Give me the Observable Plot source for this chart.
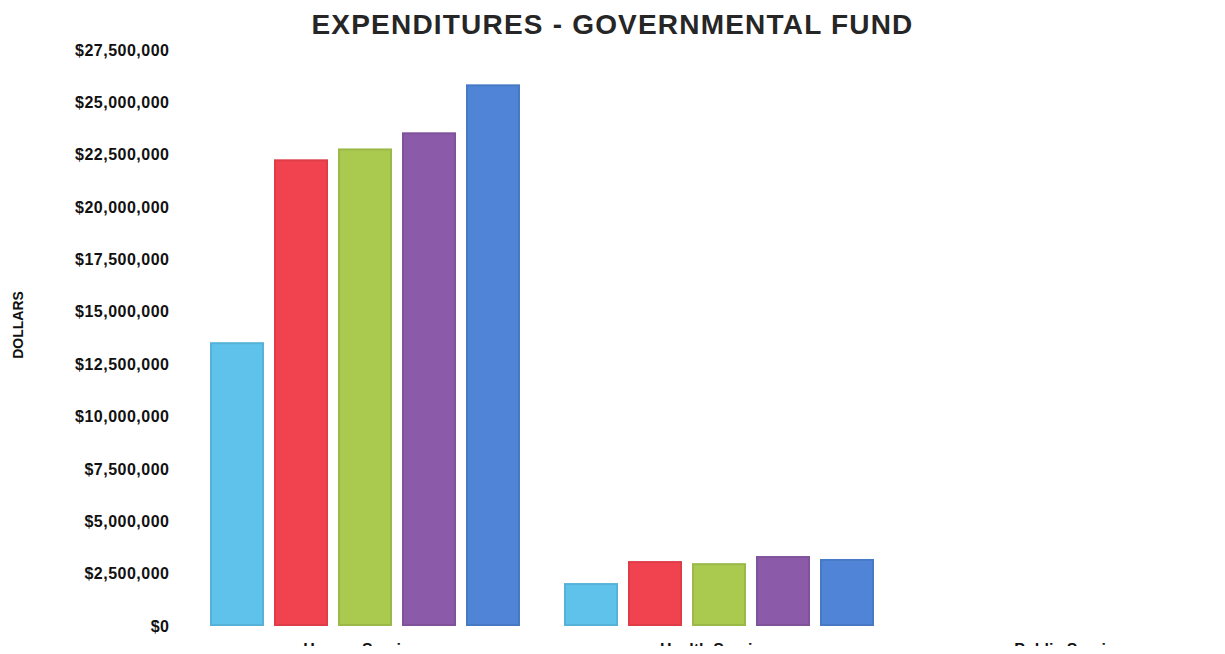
<!DOCTYPE html>
<html>
<head>
<meta charset="utf-8">
<script src="https://cdn.jsdelivr.net/npm/d3@7"></script>
<script src="https://cdn.jsdelivr.net/npm/@observablehq/plot@0.6"></script>
<style>
  html, body { margin: 0; padding: 0; background: #fff; overflow: hidden; width: 1225px; height: 654px; }
  #wrap { position: relative; width: 1225px; height: 654px; overflow: hidden; font-family: "Liberation Sans", Arial, sans-serif; }
  #title { position: absolute; left: 0; top: 11px; width: 1225px; text-align: center; font-size: 28px; line-height: 28px; font-weight: bold; letter-spacing: 1.2px; color: #262626; white-space: nowrap; }
  #ylabel { position: absolute; left: 18px; top: 325px; transform: translate(-50%, -50%) rotate(-90deg); font-size: 14px; font-weight: bold; color: #111; white-space: nowrap; }
  #chart { position: absolute; left: 0; top: 40px; width: 1257px; height: 606px; overflow: hidden; }
  #chart svg { overflow: hidden !important; max-width: none !important; width: 1257px; height: 606px; }
  #chart svg g[aria-label="y-axis tick label"] text { font-weight: bold; letter-spacing: 0.5px; }
  #chart svg g[aria-label="fx-axis tick label"] text { font-weight: bold; }
</style>
</head>
<body>
<div id="wrap">
  <div id="title">EXPENDITURES - GOVERNMENTAL FUND</div>
  <div id="ylabel">DOLLARS</div>
  <div id="chart"></div>
</div>
<script>
// Categories (x groups) and series (bars within each group)
const categories = ["Human Services", "Health Services", "Public Services"];
const series = ["FY 2010", "FY 2011", "FY 2012", "FY 2013", "FY 2014"];
// Values per category, in series order (dollars)
const humanServices = [13550000, 22280000, 22800000, 23570000, 25860000];
const healthServices = [2050000, 3100000, 3000000, 3340000, 3200000];
const publicServices = [0, 0, 0, 0, 0];
// Series colors
const seriesColors = ["#5ec2ea", "#f1434f", "#a9c94f", "#8b5aa8", "#4f84d6"];
// Y tick values
const yTicks = [0, 2500000, 5000000, 7500000, 10000000, 12500000, 15000000, 17500000, 20000000, 22500000, 25000000, 27500000];

const valuesByCategory = [humanServices, healthServices, publicServices];
const data = [];
categories.forEach((c, i) => {
  series.forEach((s, j) => {
    data.push({category: c, series: s, value: valuesByCategory[i][j]});
  });
});

const chart = Plot.plot({
  width: 1257,
  height: 606,
  marginLeft: 180,
  marginRight: 0,
  marginTop: 10,
  marginBottom: 20,
  style: {fontFamily: "'Liberation Sans', Arial, sans-serif", color: "#111", background: "transparent", overflow: "hidden"},
  fx: {domain: categories, paddingInner: 0.12, paddingOuter: 0.077, label: null},
  x: {domain: series, paddingInner: 0.15, paddingOuter: 0, axis: null},
  y: {domain: [0, 27500000], axis: null},
  color: {domain: series, range: seriesColors},
  marks: [
    Plot.barY(data, {fx: "category", x: "series", y: "value", fill: "series"}),
    Plot.barY(data, {fx: "category", x: "series", y: "value", fill: "none", stroke: "#000", strokeOpacity: 0.08, strokeWidth: 2, inset: 1}),
    Plot.axisY(yTicks, {tickSize: 0, tickPadding: 40, tickFormat: d3.format("$,"), fontSize: 16, label: null}),
    Plot.axisFx({anchor: "bottom", tickSize: 0, tickPadding: 17, fontSize: 16, label: null})
  ]
});
document.getElementById("chart").appendChild(chart);
</script>
</body>
</html>
